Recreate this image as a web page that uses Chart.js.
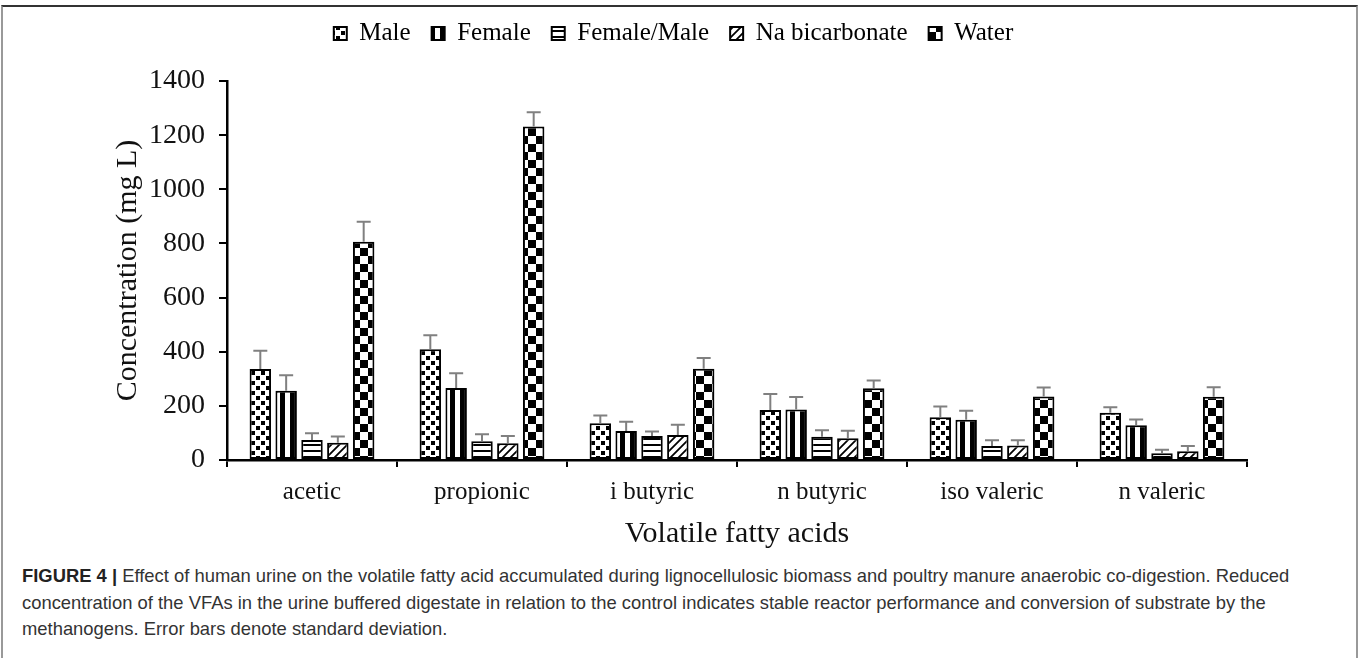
<!DOCTYPE html>
<html>
<head>
<meta charset="utf-8">
<script src="https://cdn.jsdelivr.net/npm/chart.js@4.4.1/dist/chart.umd.min.js"></script>
<style>
  body { margin: 0; background: #fff; }
  #wrap { position: relative; width: 1360px; height: 658px; overflow: hidden; }
  #frame { position: absolute; left: 1px; top: 5px; width: 1353px; height: 660px;
           border-top: 2px solid #333; border-left: 2px solid #999; border-right: 2px solid #999; }
  #chartBox { position: absolute; left: 0; top: 0; width: 1360px; height: 560px; }
  #caption { position: absolute; left: 22px; top: 563px; width: 1320px; white-space: nowrap;
             font-family: "Liberation Sans", Arial, sans-serif; font-size: 18.4px; line-height: 26.5px; color: #333; }
  #caption b { font-weight: bold; color: #222; }
</style>
</head>
<body>
<div id="wrap">
  <div id="frame"></div>
  <div id="chartBox"><canvas id="vfaChart" width="1360" height="560"></canvas></div>
  <div id="caption">
    <div><b>FIGURE 4 |</b> Effect of human urine on the volatile fatty acid accumulated during lignocellulosic biomass and poultry manure anaerobic co-digestion. Reduced</div>
    <div>concentration of the VFAs in the urine buffered digestate in relation to the control indicates stable reactor performance and conversion of substrate by the</div>
    <div>methanogens. Error bars denote standard deviation.</div>
  </div>
</div>
<script>
// data (mg/L)
const categories = ['acetic', 'propionic', 'i butyric', 'n butyric', 'iso valeric', 'n valeric'];
const seriesNames = ['Male', 'Female', 'Female/Male', 'Na bicarbonate', 'Water'];

const male = [336, 409, 136, 185, 158, 175];
const maleSd = [68, 52, 28, 59, 40, 20];
const female = [256, 266, 107, 187, 149, 128];
const femaleSd = [57, 54, 34, 46, 33, 22];
const femaleMale = [74, 69, 89, 86, 52, 25];
const femaleMaleSd = [25, 26, 16, 24, 21, 13];
const naBicarb = [64, 62, 92, 80, 54, 32];
const naBicarbSd = [23, 27, 38, 28, 19, 20];
const water = [806, 1232, 337, 265, 235, 234];
const waterSd = [74, 53, 40, 29, 33, 35];

const yTicks = [0, 200, 400, 600, 800, 1000, 1200, 1400];

// black & white fill patterns
function makePattern(w, h, draw) {
  const c = document.createElement('canvas');
  c.width = w; c.height = h;
  const ctx = c.getContext('2d');
  ctx.fillStyle = '#fff';
  ctx.fillRect(0, 0, w, h);
  ctx.fillStyle = '#000';
  ctx.strokeStyle = '#000';
  draw(ctx);
  return c.getContext('2d').createPattern(c, 'repeat');
}

const dotsPat = makePattern(10, 10, ctx => {
  ctx.fillRect(1, 1, 4, 4);
  ctx.fillRect(6, 6, 4, 4);
});
const vStripePat = makePattern(10, 2, ctx => {
  ctx.fillRect(0, 0, 5, 2);
});
const hStripePat = makePattern(2, 6, ctx => {
  ctx.fillRect(0, 0, 2, 2);
});
const diagPat = makePattern(8, 8, ctx => {
  ctx.lineWidth = 1.8;
  ctx.beginPath();
  ctx.moveTo(0, 8); ctx.lineTo(8, 0);
  ctx.moveTo(-4, 4); ctx.lineTo(4, -4);
  ctx.moveTo(4, 12); ctx.lineTo(12, 4);
  ctx.stroke();
});
const checkPat = makePattern(16, 16, ctx => {
  ctx.fillRect(0, 0, 8, 8);
  ctx.fillRect(8, 8, 8, 8);
});

function makeSet(label, data, errors, fill) {
  return {
    label: label,
    data: data,
    errors: errors,
    backgroundColor: fill,
    borderColor: '#000',
    borderWidth: 2,
    borderSkipped: false,
    categoryPercentage: 0.76,
    barPercentage: 0.83
  };
}

// draws the standard deviation whiskers above each bar
const errorBars = {
  id: 'errorBars',
  afterDatasetsDraw(chart) {
    const ctx = chart.ctx;
    const yScale = chart.scales.y;
    ctx.save();
    ctx.strokeStyle = '#808080';
    ctx.lineWidth = 2;
    chart.data.datasets.forEach((ds, i) => {
      const meta = chart.getDatasetMeta(i);
      meta.data.forEach((bar, j) => {
        const yTop = yScale.getPixelForValue(ds.data[j] + ds.errors[j]);
        ctx.beginPath();
        ctx.moveTo(bar.x, bar.y);
        ctx.lineTo(bar.x, yTop);
        ctx.moveTo(bar.x - 7, yTop);
        ctx.lineTo(bar.x + 7, yTop);
        ctx.stroke();
      });
    });
    ctx.restore();
  }
};

// give the legend a fixed height so the plot starts lower
const legendSpace = {
  id: 'legendSpace',
  beforeInit(chart) {
    const origFit = chart.legend.fit;
    chart.legend.fit = function () {
      origFit.bind(chart.legend)();
      this.height = 81;
    };
  }
};

const serif = "'Liberation Serif', 'Times New Roman', serif";

new Chart(document.getElementById('vfaChart').getContext('2d'), {
  type: 'bar',
  data: {
    labels: categories,
    datasets: [
      makeSet(seriesNames[0], male, maleSd, dotsPat),
      makeSet(seriesNames[1], female, femaleSd, vStripePat),
      makeSet(seriesNames[2], femaleMale, femaleMaleSd, hStripePat),
      makeSet(seriesNames[3], naBicarb, naBicarbSd, diagPat),
      makeSet(seriesNames[4], water, waterSd, checkPat)
    ]
  },
  options: {
    responsive: false,
    animation: false,
    layout: { padding: { left: 100, right: 113, top: 0, bottom: 0 } },
    plugins: {
      legend: {
        display: true,
        position: 'top',
        labels: {
          color: '#000',
          font: { family: serif, size: 25 },
          boxWidth: 13,
          boxHeight: 13,
          padding: 21
        }
      },
      tooltip: { enabled: false }
    },
    scales: {
      x: {
        afterFit(scale) { scale.height = 100; },
        grid: { display: true, drawOnChartArea: false, offset: true, tickLength: 7, color: '#000', lineWidth: 2 },
        border: { display: true, color: '#000', width: 2.5 },
        ticks: { color: '#111', font: { family: serif, size: 25 }, padding: 10 },
        title: {
          display: true,
          text: 'Volatile fatty acids',
          color: '#111',
          font: { family: serif, size: 30 },
          padding: { top: 0, bottom: 8 }
        }
      },
      y: {
        min: 0,
        max: 1400,
        afterFit(scale) { scale.width = 127; },
        afterBuildTicks(scale) { scale.ticks = yTicks.map(v => ({ value: v })); },
        grid: { display: true, drawOnChartArea: false, tickLength: 8, color: '#000', lineWidth: 2 },
        border: { display: true, color: '#000', width: 2.5 },
        ticks: {
          color: '#111',
          font: { family: serif, size: 28 },
          padding: 14,
          callback: v => String(v)
        },
        title: {
          display: true,
          text: 'Concentration (mg L)',
          color: '#111',
          font: { family: serif, size: 30 },
          padding: { top: 10, bottom: 0 }
        }
      }
    }
  },
  plugins: [errorBars, legendSpace]
});
</script>
</body>
</html>
